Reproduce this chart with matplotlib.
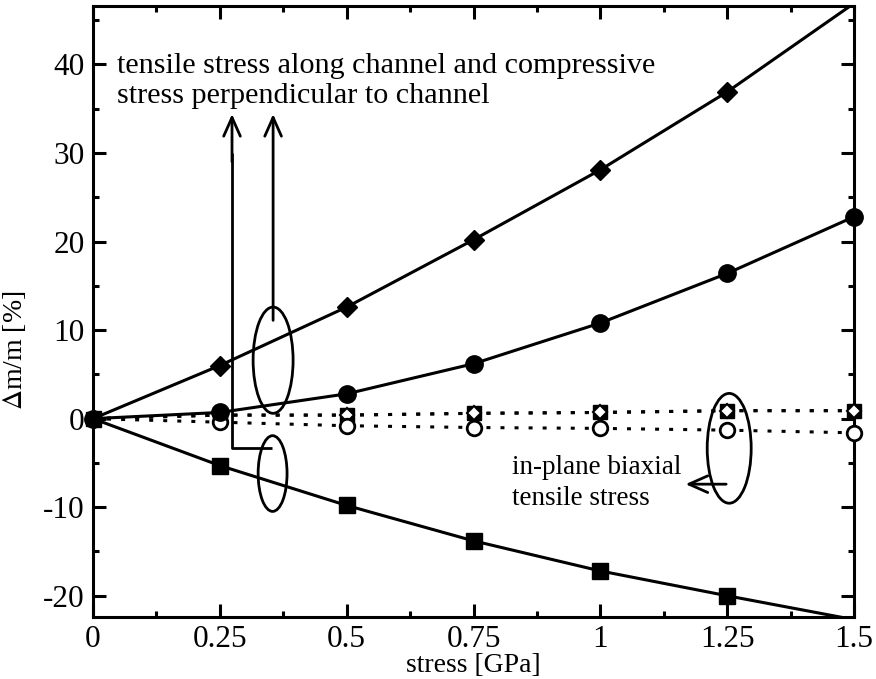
import matplotlib
matplotlib.use("Agg")
import matplotlib.pyplot as plt
from matplotlib.patches import Ellipse
from matplotlib.ticker import MultipleLocator, FixedLocator, FixedFormatter

plt.rcParams['font.family'] = ['Liberation Serif', 'DejaVu Serif']
plt.rcParams['mathtext.fontset'] = 'stix'

# ---- data ----
stress = [0, 0.25, 0.5, 0.75, 1.0, 1.25, 1.5]
diamond_solid = [0, 6.0, 12.6, 20.2, 28.1, 36.9, 46.9]
circle_solid = [0, 0.7, 2.8, 6.2, 10.8, 16.4, 22.8]
square_solid = [0, -5.3, -9.8, -13.8, -17.2, -20.0, -22.7]
square_dotted = [0, 0.4, 0.4, 0.6, 0.7, 0.9, 0.9]
diamond_dotted = [0, 0.4, 0.4, 0.6, 0.7, 0.9, 0.9]
circle_dotted = [0, -0.4, -0.8, -1.0, -1.1, -1.3, -1.6]

xtick_vals = [0, 0.25, 0.5, 0.75, 1.0, 1.25, 1.5]
xtick_labels = ['0', '0.25', '0.5', '0.75', '1', '1.25', '1.5']
ytick_vals = [-20, -10, 0, 10, 20, 30, 40]
ytick_labels = ['-20', '-10', '0', '10', '20', '30', '40']

fig = plt.figure(figsize=(8.76, 6.79), dpi=100)
ax = fig.add_axes([93/876, 1-617/679, (854-93)/876, (617-6)/679])
ax.set_xlim(0, 1.5)
ax.set_ylim(-22.4, 46.6)

lw = 2.2
dots = (0, (1.3, 3.3))

# dotted series
ax.plot(stress, square_dotted, color='black', lw=lw, linestyle=dots, clip_on=False,
        dash_capstyle='butt', marker='s', markersize=10.5, mfc='black', mec='black', zorder=3)
ax.plot(stress, diamond_dotted, color='black', lw=lw, linestyle=dots, clip_on=False,
        dash_capstyle='butt', marker='D', markersize=7.5, mfc='white', mec='black', mew=1.5, zorder=3)
ax.plot(stress, circle_dotted, color='black', lw=lw, linestyle=dots, clip_on=False,
        dash_capstyle='butt', marker='o', markersize=10.5, mfc='white', mec='black', mew=2.0, zorder=3)

# solid series (last point lies outside the frame: line only, no marker)
inside = list(range(len(stress) - 1))
ax.plot(stress, diamond_solid, color='black', lw=lw, marker='D', markersize=10,
        markevery=inside, mfc='black', mec='black', zorder=4)
ax.plot(stress, circle_solid, color='black', lw=lw, marker='o', markersize=12.5,
        mfc='black', mec='black', zorder=4, clip_on=False)
ax.plot(stress, square_solid, color='black', lw=lw, marker='s', markersize=11,
        markevery=inside, mfc='black', mec='black', zorder=4)

# axes styling
for s in ax.spines.values():
    s.set_linewidth(2.2)
ax.xaxis.set_major_locator(FixedLocator(xtick_vals))
ax.xaxis.set_major_formatter(FixedFormatter(xtick_labels))
ax.xaxis.set_minor_locator(MultipleLocator(0.125))
ax.yaxis.set_major_locator(FixedLocator(ytick_vals))
ax.yaxis.set_major_formatter(FixedFormatter(ytick_labels))
ax.yaxis.set_minor_locator(MultipleLocator(5))
ax.tick_params(which='both', direction='in', top=True, right=True, width=2.2)
ax.tick_params(which='major', length=9.5, labelsize=22.5, pad=6)
ax.tick_params(which='minor', length=4.5)

ax.set_xlabel('stress [GPa]', fontsize=20, labelpad=-1)
ax.set_ylabel(r'$\Delta$m/m [%]', fontsize=20)
ax.yaxis.set_label_coords(-0.085, (617 - 350) / (617 - 6))

# annotations
fs = 21.7
ax.text(0.047, 39.06, 'tensile stress along channel and compressive', fontsize=fs, ha='left', va='baseline')
ax.text(0.047, 35.7, 'stress perpendicular to channel', fontsize=fs, ha='left', va='baseline')
fs2 = 19.5
ax.text(0.826, -6.27, 'in-plane biaxial', fontsize=fs2, ha='left', va='baseline')
ax.text(0.826, -9.76, 'tensile stress', fontsize=fs2, ha='left', va='baseline')

ap = dict(arrowstyle='->,head_length=1.35,head_width=0.6', color='black', lw=2.0, shrinkA=0, shrinkB=0)
# bracket arrow
ax.plot([0.353, 0.274, 0.274], [-3.35, -3.35, 30], color='black', lw=2.0, solid_capstyle='butt')
ax.annotate('', xy=(0.274, 34.4), xytext=(0.274, 29), arrowprops=ap)
ax.annotate('', xy=(0.355, 34.4), xytext=(0.355, 11.1), arrowprops=ap)
ax.annotate('', xy=(1.168, -7.4), xytext=(1.248, -7.4), arrowprops=ap)

for (cx, cy, w, h) in [(0.355, 6.6, 0.0788, 12.0), (0.354, -6.2, 0.057, 8.55), (1.254, -3.35, 0.0867, 12.4)]:
    ax.add_patch(Ellipse((cx, cy), w, h, fill=False, edgecolor='black', lw=2.0, zorder=5))

fig.savefig('out.png', dpi=100)
